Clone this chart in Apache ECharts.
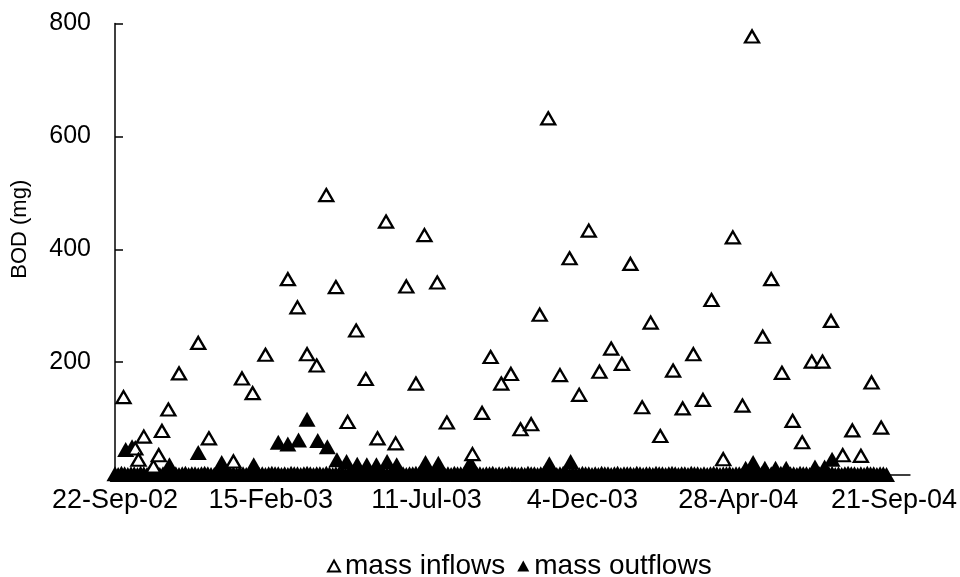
<!DOCTYPE html>
<html>
<head>
<meta charset="utf-8">
<script src="https://cdn.jsdelivr.net/npm/echarts@6/dist/echarts.min.js"></script>
<style>
html,body{margin:0;padding:0;background:#fff;}
#chart{width:960px;height:577px;}
</style>
</head>
<body>
<div id="chart"></div>
<script>
// x values are days since 22-Sep-02
const xTickLabels = ['22-Sep-02','15-Feb-03','11-Jul-03','4-Dec-03','28-Apr-04','21-Sep-04'];
const yTickLabels = ['200','400','600','800'];

const inflowDays = [8,19,22,27,36,41,44,50,60,78,88,111,119,129,141,162,171,180,189,198,207,218,226,235,246,254,263,273,282,290,302,311,335,344,352,362,371,380,390,398,406,417,426,435,444,454,465,475,483,494,502,511,523,532,542,551,559,570,579,588,597,607,615,625,635,644,653,663,671,682,691,699,709,718];
const inflowValues = [138,47,27,68,15,35,78,116,180,234,65,24,171,145,213,347,297,214,194,496,333,94,256,170,65,449,56,334,162,425,341,93,37,110,209,162,179,81,90,284,632,177,384,142,433,183,224,197,374,120,270,69,185,118,214,133,310,28,421,123,777,245,347,181,96,58,201,201,273,35,79,34,164,84];

// outflows: routine low readings forming the band along the axis
const outflowDays = [0,3,6,9,12,15,18,21,24,27,30,33,36,39,42,45,48,51,54,57,60,63,66,69,72,75,78,81,84,87,90,93,96,99,102,105,108,111,114,117,120,123,126,129,132,135,138,141,144,147,150,153,156,159,162,165,168,171,174,177,180,183,186,189,192,195,198,201,204,207,210,213,216,219,222,225,228,231,234,237,240,243,246,249,252,255,258,261,264,267,270,273,276,279,282,285,288,291,294,297,300,303,306,309,312,315,318,321,324,327,330,333,336,339,342,345,348,351,354,357,360,363,366,369,372,375,378,381,384,387,390,393,396,399,402,405,408,411,414,417,420,423,426,429,432,435,438,441,444,447,450,453,456,459,462,465,468,471,474,477,480,483,486,489,492,495,498,501,504,507,510,513,516,519,522,525,528,531,534,537,540,543,546,549,552,555,558,561,564,567,570,573,576,579,582,585,588,591,594,597,600,603,606,609,612,615,618,621,624,627,630,633,636,639,642,645,648,651,654,657,660,663,666,669,672,675,678,681,684,687,690,693,696,699,702,705,708,711,714,717,720,723];
const outflowValues = [2,1,3,2,1,2,2,1,3,2,1,2,3,2,1,2,1,3,2,2,
1,2,3,1,2,2,1,2,3,2,1,1,2,3,2,1,2,2,1,3,
2,1,2,2,3,1,2,1,2,3,2,2,1,2,1,3,2,2,1,2,
3,2,1,2,2,1,3,2,1,2,2,3,1,2,2,1,2,3,2,1,
2,2,1,3,2,1,2,2,3,1,2,1,2,2,3,2,1,2,1,2,
3,2,2,1,2,1,3,2,2,1,2,3,1,2,2,1,2,2,3,1,
2,1,2,3,2,2,1,2,1,3,2,2,1,2,3,1,2,2,1,2,
3,2,1,2,2,1,3,2,2,1,2,1,3,2,2,1,2,3,1,2,
2,2,1,3,2,1,2,2,1,3,2,2,1,2,3,2,1,2,2,1,
3,2,2,1,2,1,2,3,2,1,2,2,3,1,2,2,1,2,3,2,
1,2,2,3,1,2,2,1,3,2,1,2,2,1,3,2,2,1,2,3,
2,1,2,2,3,1,2,1,2,3,2,2,1,2,1,3,2,2,1,2,
2,1];
// outflows: higher readings
const outflowPeakDays = [10,16,51,78,100,130,153,162,172,180,190,199,208,217,227,236,245,255,264,291,303,333,407,427,591,598,609,619,629,656,665,672];
const outflowPeakValues = [45,50,18,40,22,18,58,55,62,99,61,50,27,24,19,18,18,24,18,22,21,22,20,24,12,22,12,12,12,14,14,28];

function pairs(xs, ys){
  const n = Math.min(xs.length, ys.length);
  const out = [];
  for (let i = 0; i < n; i++) out.push([xs[i], ys[i]]);
  return out;
}

const fontFam = '"Liberation Sans", Arial, Helvetica, sans-serif';
const chart = echarts.init(document.getElementById('chart'), null, {renderer:'canvas'});
chart.setOption({
  animation: false,
  backgroundColor: '#fff',
  textStyle: {fontFamily: fontFam, color: '#000'},
  grid: {left: 115, right: 47, top: 23.5, bottom: 102, containLabel: false},
  legend: {
    data: ['mass inflows', 'mass outflows'],
    left: 322, top: 547,
    itemWidth: 12, itemHeight: 11, itemGap: 12,
    textStyle: {fontSize: 28, color: '#000', fontFamily: fontFam}
  },
  xAxis: {
    type: 'value', min: 0, max: 745, interval: 146,
    axisLine: {show: true, onZero: false, lineStyle: {color: '#000', width: 1.5}},
    axisTick: {show: false},
    splitLine: {show: false},
    axisLabel: {
      color: '#000', fontSize: 27, fontFamily: fontFam, margin: 12,
      showMaxLabel: false,
      formatter: function(v){
        const i = v / 146;
        return (Number.isInteger(i) && i < xTickLabels.length) ? xTickLabels[i] : '';
      }
    }
  },
  yAxis: {
    type: 'value', min: 0, max: 800, interval: 200,
    axisLine: {show: true, lineStyle: {color: '#000', width: 1.5}},
    axisTick: {show: true, inside: true, length: 8, lineStyle: {color: '#000', width: 1.5}},
    splitLine: {show: false},
    axisLabel: {
      color: '#000', fontSize: 25, fontFamily: fontFam, margin: 24,
      formatter: function(v){
        const i = v / 200 - 1;
        return (i >= 0 && i < yTickLabels.length) ? yTickLabels[i] : '';
      }
    },
    name: 'BOD (mg)', nameLocation: 'middle', nameGap: 84,
    nameTextStyle: {fontSize: 22, color: '#000', fontFamily: fontFam, padding: [0, 0, 0, 40]}
  },
  series: [
    {
      name: 'mass inflows', type: 'scatter', z: 3,
      symbol: 'triangle', symbolSize: [14, 12],
      itemStyle: {color: '#fff', borderColor: '#000', borderWidth: 2.3, opacity: 1},
      data: pairs(inflowDays, inflowValues)
    },
    {
      name: 'mass outflows', type: 'scatter', z: 2,
      symbol: 'triangle', symbolSize: [17, 15],
      itemStyle: {color: '#000', opacity: 1},
      data: pairs(outflowDays, outflowValues).concat(pairs(outflowPeakDays, outflowPeakValues))
    }
  ]
});
</script>
</body>
</html>
